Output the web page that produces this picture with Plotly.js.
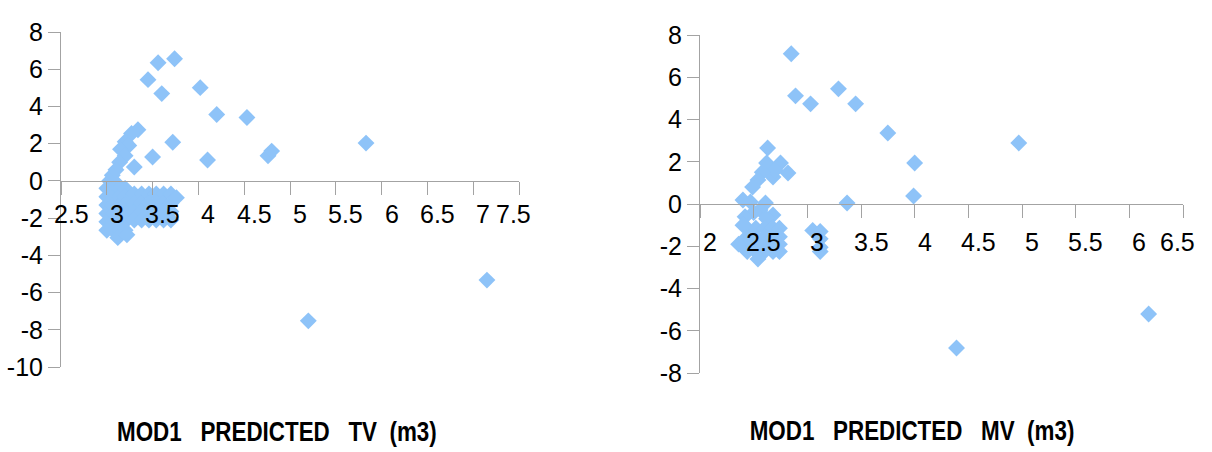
<!DOCTYPE html>
<html>
<head>
<meta charset="utf-8">
<script src="https://cdn.plot.ly/plotly-3.0.1.min.js"></script>
<style>html,body{margin:0;padding:0;background:#fff;}#chart{width:1212px;height:452px;}</style>
</head>
<body>
<div id="chart"></div>
<script>
// ---- Data: left panel (TV) ----
const tvX = [3.45,3.56,3.74,3.60,4.02,4.20,4.53,3.72,3.50,4.10,4.76,4.80,5.83,5.20,7.15,
  3.34,3.27,3.20,3.24,3.15,3.20,3.14,3.30,3.10,3.06,3.03,3.12,
  3.00,3.00,3.00,3.00,3.00,3.00,3.07,3.07,3.07,3.07,3.07,3.07,3.14,3.14,3.14,3.14,3.14,3.14,3.20,3.20,3.20,3.20,3.20,3.20,3.12,3.22,
  3.30,3.30,3.30,3.30,3.38,3.38,3.38,3.38,3.46,3.46,3.46,3.46,3.54,3.54,3.54,3.54,3.62,3.62,3.62,3.62,3.70,3.70,3.70,3.70,3.76];
const tvY = [5.44,6.35,6.56,4.69,5.01,3.57,3.41,2.08,1.28,1.12,1.35,1.60,2.03,-7.52,-5.33,
  2.75,2.55,2.10,1.90,1.70,1.35,1.00,0.75,0.60,0.30,0.00,-0.20,
  -0.40,-0.85,-1.30,-1.75,-2.20,-2.65,-0.40,-0.85,-1.30,-1.75,-2.20,-2.65,-0.40,-0.85,-1.30,-1.75,-2.20,-2.65,-0.40,-0.85,-1.30,-1.75,-2.20,-2.65,-3.05,-2.90,
  -0.70,-1.20,-1.65,-2.10,-0.70,-1.20,-1.65,-2.10,-0.70,-1.20,-1.65,-2.10,-0.70,-1.20,-1.65,-2.10,-0.70,-1.20,-1.65,-2.10,-0.70,-1.20,-1.65,-2.10,-0.90];
const tvXTicks = [2.5,3,3.5,4,4.5,5,5.5,6,6.5,7,7.5];
const tvXLabels = ["2.5","3","3.5","4","4.5","5","5.5","6","6.5","7","7.5"];
const tvYTicks = [8,6,4,2,0,-2,-4,-6,-8,-10];
const tvTitle = "MOD1\u00a0\u00a0\u00a0PREDICTED\u00a0\u00a0\u00a0TV\u00a0\u00a0(m3)";

// ---- Data: right panel (MV) ----
const mvX = [2.85,2.89,3.03,3.29,3.45,3.75,4.00,3.99,3.37,4.97,6.18,4.39,
  2.63,2.62,2.75,2.82,2.68,2.70,2.58,2.54,2.49,2.40,2.47,2.61,2.56,2.68,2.50,2.42,2.62,
  2.44,2.44,2.44,2.44,2.52,2.52,2.52,2.52,2.60,2.60,2.60,2.60,2.68,2.68,2.68,2.68,2.74,2.74,2.74,2.74,2.54,2.36,2.40,
  3.05,3.12,3.12,3.12,3.12];
const mvY = [7.11,5.12,4.74,5.45,4.74,3.36,1.94,0.38,0.05,2.89,-5.21,-6.82,
  2.65,1.94,1.94,1.47,1.28,1.60,1.50,1.14,0.80,0.19,0.10,0.05,-0.28,-0.52,-0.40,-0.60,-0.70,
  -1.15,-1.55,-1.90,-2.25,-1.15,-1.55,-1.90,-2.25,-1.15,-1.55,-1.90,-2.25,-1.15,-1.55,-1.90,-2.25,-1.15,-1.55,-1.90,-2.25,-2.60,-1.90,-1.00,
  -1.25,-1.30,-1.65,-2.05,-2.25];
const mvXTicks = [2,2.5,3,3.5,4,4.5,5,5.5,6,6.5];
const mvXLabels = ["2","2.5","3","3.5","4","4.5","5","5.5","6","6.5"];
const mvYTicks = [8,6,4,2,0,-2,-4,-6,-8];
const mvTitle = "MOD1\u00a0\u00a0\u00a0PREDICTED\u00a0\u00a0\u00a0MV\u00a0\u00a0(m3)";

// ---- Styling ----
const markerColor = "rgb(142,195,248)";
const axisColor = "#a3a3a3";
const tickFont = {family: "Liberation Sans, Arial, sans-serif", size: 25, color: "#000"};
const titleFont = {family: "Liberation Sans, Arial, sans-serif", size: 28, color: "#000", weight: "bold"};

const dom1x = [61/1212, 519/1212], dom1y = [(452-367)/452, (452-32)/452];
const dom2x = [700/1212, 1183/1212], dom2y = [(452-373)/452, (452-35)/452];
const r1y = [-10, 8], r2y = [-8, 8];
function zeroPos(dom, r){ return dom[0] + (0 - r[0]) / (r[1] - r[0]) * (dom[1] - dom[0]); }

const traces = [
  {type: "scatter", mode: "markers", x: tvX, y: tvY, xaxis: "x", yaxis: "y",
   marker: {symbol: "diamond", size: 13, color: markerColor}, hoverinfo: "skip"},
  {type: "scatter", mode: "markers", x: mvX, y: mvY, xaxis: "x2", yaxis: "y2",
   marker: {symbol: "diamond", size: 13, color: markerColor}, hoverinfo: "skip"}
];

function xAxis(dom, range, ticks, pos){
  return {domain: dom, range: range, anchor: "free", position: pos,
    showline: true, linecolor: axisColor, linewidth: 1, ticks: "outside", ticklen: 13,
    tickcolor: axisColor, tickwidth: 1, tickvals: ticks, showticklabels: false,
    showgrid: false, zeroline: false, fixedrange: true};
}
function yAxis(dom, range, ticks, xa){
  return {domain: dom, range: range, anchor: xa, showline: true, linecolor: axisColor,
    linewidth: 1, ticks: "outside", ticklen: 12, tickcolor: axisColor, tickwidth: 1,
    tickvals: ticks, ticktext: ticks.map(String), tickfont: tickFont,
    showgrid: false, zeroline: false, fixedrange: true};
}

const annotations = [];
function addXLabels(ticks, labels, xref, yref, yshift){
  ticks.forEach((t, i) => {
    const last = i === ticks.length - 1;
    annotations.push({x: t, y: 0, xref: xref, yref: yref, text: labels[i], showarrow: false,
      xanchor: "center", yanchor: "middle", xshift: last ? -6 : 10, yshift: yshift, font: tickFont});
  });
}
addXLabels(tvXTicks, tvXLabels, "x", "y", -33);
addXLabels(mvXTicks, mvXLabels, "x2", "y2", -38);
annotations.push({x: 277/1212, y: (452-431)/452, xref: "paper", yref: "paper", text: tvTitle,
  showarrow: false, xanchor: "center", yanchor: "middle", font: titleFont});
annotations.push({x: 912/1212, y: (452-430)/452, xref: "paper", yref: "paper", text: mvTitle,
  showarrow: false, xanchor: "center", yanchor: "middle", font: titleFont});

const layout = {
  width: 1212, height: 452, autosize: false,
  margin: {l: 0, r: 0, t: 0, b: 0, pad: 0},
  paper_bgcolor: "#fff", plot_bgcolor: "rgba(0,0,0,0)",
  showlegend: false,
  xaxis: xAxis(dom1x, [2.5, 7.5], tvXTicks, zeroPos(dom1y, r1y)),
  yaxis: yAxis(dom1y, r1y, tvYTicks, "x"),
  xaxis2: xAxis(dom2x, [2, 6.5], mvXTicks, zeroPos(dom2y, r2y)),
  yaxis2: yAxis(dom2y, r2y, mvYTicks, "x2"),
  annotations: annotations
};

Plotly.newPlot("chart", traces, layout, {staticPlot: true, displayModeBar: false}).then(gd => {
  // condense the axis-title text horizontally, like the narrow font of the original
  gd.querySelectorAll("text.annotation-text").forEach(t => {
    if (t.textContent === tvTitle || t.textContent === mvTitle) {
      const cx = parseFloat(t.getAttribute("x")) || 0;
      t.setAttribute("transform", "translate(" + cx + ",0) scale(0.8,1) translate(" + (-cx) + ",0)");
    }
  });
});
</script>
</body>
</html>
